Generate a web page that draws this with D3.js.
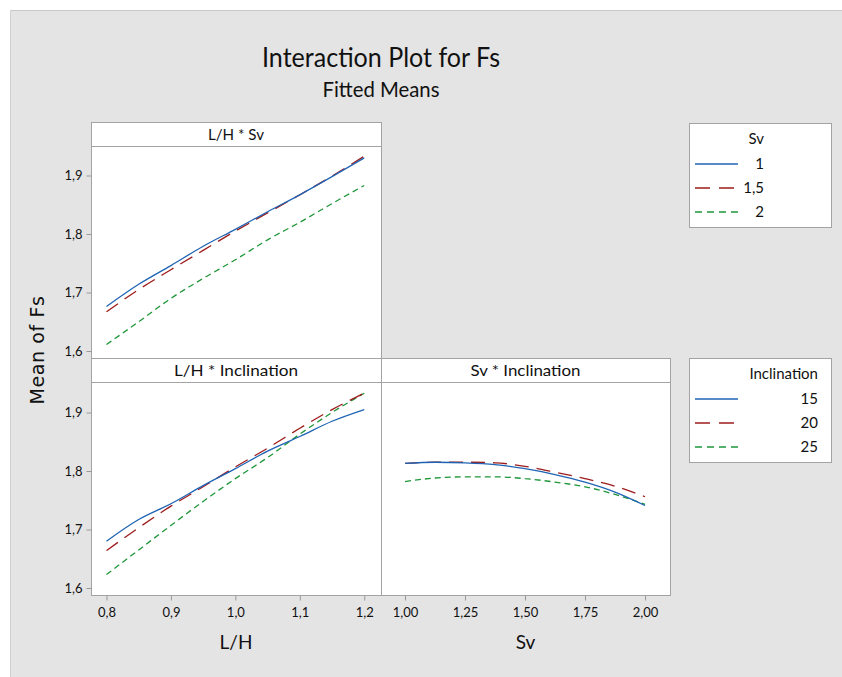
<!DOCTYPE html>
<html>
<head>
<meta charset="utf-8">
<script src="https://cdn.jsdelivr.net/npm/d3@7"></script>
<style>
  html, body { margin: 0; padding: 0; background: #ffffff; }
  svg text { font-family: Lato, "Liberation Sans", sans-serif; fill: #111; }
</style>
</head>
<body>
<svg id="chart" width="842" height="677"></svg>
<script>
// Factor levels on the horizontal axes
const lhLevels = [0.80, 0.85, 0.90, 0.95, 1.00, 1.05, 1.10, 1.15, 1.20];
const svLevels = [1.000, 1.125, 1.250, 1.375, 1.500, 1.625, 1.750, 1.875, 2.000];

// L/H * Sv fitted means (one series per Sv level)
const lhSvSv1  = [1.676, 1.714, 1.746, 1.779, 1.808, 1.838, 1.867, 1.898, 1.930];
const lhSvSv15 = [1.667, 1.705, 1.739, 1.772, 1.805, 1.836, 1.867, 1.899, 1.933];
const lhSvSv2  = [1.611, 1.650, 1.690, 1.724, 1.756, 1.790, 1.820, 1.852, 1.883];

// L/H * Inclination fitted means
const lhInc15 = [1.680, 1.717, 1.744, 1.775, 1.804, 1.834, 1.859, 1.885, 1.905];
const lhInc20 = [1.664, 1.703, 1.740, 1.773, 1.807, 1.839, 1.873, 1.905, 1.933];
const lhInc25 = [1.623, 1.665, 1.707, 1.748, 1.787, 1.823, 1.863, 1.900, 1.933];

// Sv * Inclination fitted means
const svInc15 = [1.813, 1.815, 1.814, 1.811, 1.804, 1.794, 1.781, 1.764, 1.741];
const svInc20 = [1.813, 1.815, 1.815, 1.814, 1.808, 1.798, 1.787, 1.774, 1.756];
const svInc25 = [1.782, 1.788, 1.790, 1.790, 1.787, 1.781, 1.773, 1.760, 1.743];

// Tick values and legend labels
const yTicks  = [1.6, 1.7, 1.8, 1.9];
const lhTicks = [0.8, 0.9, 1.0, 1.1, 1.2];
const svTicks = [1.00, 1.25, 1.50, 1.75, 2.00];
const svLegendLabels  = ["1", "1,5", "2"];
const incLegendLabels = ["15", "20", "25"];

const colors = ["#1f64b4", "#9e1b1b", "#1e9638"];
const dashes = [null, "14,8", "6,4"];

const svg = d3.select("#chart");
const fmt = (d, n) => d.toFixed(n).replace(".", ",");

// Grey backdrop
svg.append("rect").attr("x", 10).attr("y", 10).attr("width", 832).attr("height", 667)
  .attr("fill", "#e4e4e4");
svg.append("line").attr("x1", 10).attr("x2", 842).attr("y1", 10.5).attr("y2", 10.5)
  .attr("stroke", "#c9c9c9");
svg.append("line").attr("x1", 10.5).attr("x2", 10.5).attr("y1", 10).attr("y2", 677)
  .attr("stroke", "#d0d0d0");

// Titles
svg.append("text").attr("x", 381).attr("y", 67).attr("text-anchor", "middle")
  .attr("font-size", 26).attr("textLength", 238).attr("lengthAdjust", "spacingAndGlyphs")
  .text("Interaction Plot for Fs");
svg.append("text").attr("x", 381).attr("y", 97).attr("text-anchor", "middle")
  .attr("font-size", 21).attr("textLength", 117).attr("lengthAdjust", "spacingAndGlyphs")
  .text("Fitted Means");

// Y axis title
svg.append("text").attr("transform", "translate(44,350) rotate(-90)")
  .attr("text-anchor", "middle").attr("font-size", 19)
  .style("font-family", "'DejaVu Sans', sans-serif").attr("letter-spacing", 0.6)
  .text("Mean of Fs");

// Panel definitions
const panels = [
  { title: "L/H * Sv", tw: 56, x0: 91, x1: 381, y0: 122, y1: 358, xDomain: [0.776, 1.226],
    xs: lhLevels, series: [lhSvSv1, lhSvSv15, lhSvSv2], yAxis: true, xAxis: null },
  { title: "L/H * Inclination", tw: 124, x0: 91, x1: 381, y0: 358, y1: 595, xDomain: [0.776, 1.226],
    xs: lhLevels, series: [lhInc15, lhInc20, lhInc25], yAxis: true,
    xAxis: { ticks: lhTicks, digits: 1, label: "L/H" } },
  { title: "Sv * Inclination", tw: 110, x0: 381, x1: 670, y0: 358, y1: 595, xDomain: [0.9, 2.104],
    xs: svLevels, series: [svInc15, svInc20, svInc25], yAxis: false,
    xAxis: { ticks: svTicks, digits: 2, label: "Sv" } }
];

const headerH = 24;
const pxPerUnit = 585; // vertical pixels per unit of Fs

panels.forEach(p => {
  const g = svg.append("g");
  const plotTop = p.y0 + headerH;
  const base = p.y1 - 7; // where 1.6 sits
  const x = d3.scaleLinear().domain(p.xDomain).range([p.x0, p.x1]);
  const y = d3.scaleLinear()
    .domain([1.6 - (p.y1 - base) / pxPerUnit, 1.6 + (base - plotTop) / pxPerUnit])
    .range([p.y1, plotTop]);

  g.append("rect").attr("x", p.x0 + 0.5).attr("y", p.y0 + 0.5)
    .attr("width", p.x1 - p.x0).attr("height", p.y1 - p.y0)
    .attr("fill", "#ffffff").attr("stroke", "#a3a3a3");
  g.append("line").attr("x1", p.x0).attr("x2", p.x1)
    .attr("y1", plotTop + 0.5).attr("y2", plotTop + 0.5).attr("stroke", "#a3a3a3");
  g.append("text").attr("x", (p.x0 + p.x1) / 2).attr("y", p.y0 + 18)
    .attr("text-anchor", "middle").attr("font-size", 15)
    .attr("textLength", p.tw).attr("lengthAdjust", "spacingAndGlyphs").text(p.title);

  if (p.yAxis) {
    const ya = g.append("g").attr("transform", `translate(${p.x0 + 0.5},0)`)
      .call(d3.axisLeft(y).tickValues(yTicks).tickSize(5).tickSizeOuter(0)
        .tickFormat(d => fmt(d, 1)));
    ya.select(".domain").remove();
    ya.selectAll("line").attr("stroke", "#999");
    ya.selectAll("text").attr("font-size", 13).attr("x", -9).attr("fill", "#111")
      .style("font-family", "Lato, sans-serif");
  }
  if (p.xAxis) {
    const xa = g.append("g").attr("transform", `translate(0,${p.y1 + 0.5})`)
      .call(d3.axisBottom(x).tickValues(p.xAxis.ticks).tickSize(5).tickSizeOuter(0)
        .tickFormat(d => fmt(d, p.xAxis.digits)));
    xa.select(".domain").remove();
    xa.selectAll("line").attr("stroke", "#999");
    xa.selectAll("text").attr("font-size", 13).attr("y", 12).attr("fill", "#111")
      .style("font-family", "Lato, sans-serif");
    g.append("text").attr("x", (p.x0 + p.x1) / 2).attr("y", 649)
      .attr("text-anchor", "middle").attr("font-size", 19).text(p.xAxis.label);
  }

  const line = d3.line().x((d, i) => x(p.xs[i])).y(d => y(d)).curve(d3.curveMonotoneX);
  // draw in reverse so the solid series sits on top
  [2, 1, 0].forEach(k => {
    g.append("path").datum(p.series[k]).attr("d", line)
      .attr("fill", "none").attr("stroke", colors[k]).attr("stroke-width", 1.3)
      .attr("stroke-dasharray", dashes[k]);
  });
});

// Legends
function legend(y0, title, labels, rightX) {
  const g = svg.append("g");
  g.append("rect").attr("x", 689.5).attr("y", y0 + 0.5).attr("width", 142).attr("height", 104)
    .attr("fill", "#ffffff").attr("stroke", "#a3a3a3");
  g.append("text").attr("x", rightX).attr("y", y0 + 21).attr("text-anchor", "end")
    .attr("font-size", 15).text(title);
  labels.forEach((lab, i) => {
    const yy = y0 + 41 + i * 24;
    g.append("line").attr("x1", 695).attr("x2", 738).attr("y1", yy).attr("y2", yy)
      .attr("stroke", colors[i]).attr("stroke-width", 1.5)
      .attr("stroke-dasharray", i === 0 ? null : (i === 1 ? "15,9" : "7,5"));
    g.append("text").attr("x", rightX).attr("y", yy + 5).attr("text-anchor", "end")
      .attr("font-size", 15).text(lab);
  });
}
legend(123, "Sv", svLegendLabels, 764);
legend(358, "Inclination", incLegendLabels, 818);
</script>
</body>
</html>
